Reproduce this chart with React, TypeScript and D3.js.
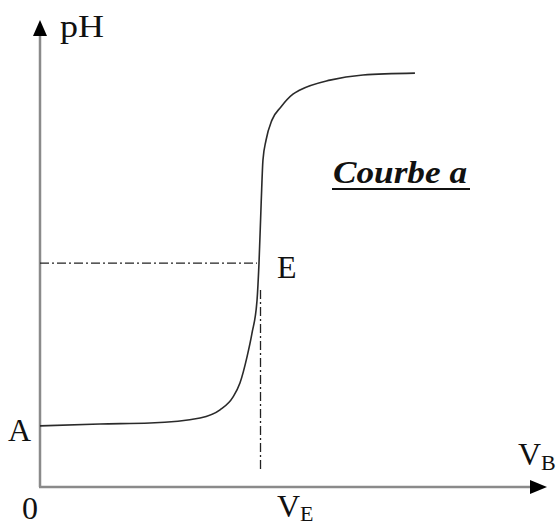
import React from "react";
import * as d3 from "d3";

// titration curve (V in mL, pH)
const volumes = [0, 2.74, 5.02, 7.31, 8.22, 8.81, 9.13, 9.45, 9.68, 9.91, 10.0, 10.1, 10.18, 10.32, 10.59, 11.0, 11.55, 11.87, 13.24, 14.75, 17.12];
const phValues = [1.91, 1.97, 2.0, 2.16, 2.41, 2.81, 3.25, 4.06, 4.81, 5.84, 7.0, 8.9, 10.22, 10.84, 11.47, 11.88, 12.28, 12.41, 12.72, 12.88, 12.94];

const equivalenceVolume = [10];
const equivalencePh = [7];

const yLabel = "pH";
const xLabel = ["V", "B"];
const eqLabel = ["V", "E"];
const originLabel = "0";
const startLabel = "A";
const pointLabel = "E";
const title = "Courbe a";

function App() {
  const width = 559;
  const height = 527;

  const x = d3.scaleLinear().domain([0, 23.15]).range([40, 547]);
  const y = d3.scaleLinear().domain([0, 14.6]).range([487, 20]);

  const pts: [number, number][] = volumes.map((v, i) => [v, phValues[i]]);
  const line = d3
    .line<[number, number]>()
    .x((d) => x(d[0]))
    .y((d) => y(d[1]))
    .curve(d3.curveMonotoneX);

  const vE = equivalenceVolume[0];
  const pE = equivalencePh[0];
  const x0 = x(0);
  const y0 = y(0);
  const font = "'Liberation Serif', 'Times New Roman', serif";
  const dash = "9 3 2 3";
  const fs = 32;
  const sub = 22;

  return (
    <svg
      width={width}
      height={height}
      style={{ position: "absolute", left: 0, top: 0, background: "#fff" }}
    >
      {/* axes */}
      <line x1={x0} y1={y0} x2={x0} y2={34} stroke="#8a8a8a" strokeWidth={2.5} />
      <line x1={x0 - 1} y1={y0} x2={532} y2={y0} stroke="#8a8a8a" strokeWidth={2.5} />
      <path d={`M${x0},${20} L${x0 - 7},${36} L${x0 + 7},${36} Z`} fill="#000" />
      <path d={`M547,${y0} L530,${y0 - 7} L530,${y0 + 7} Z`} fill="#000" />

      {/* equivalence guides */}
      <line x1={x0} y1={y(pE)} x2={x(vE) - 2} y2={y(pE)} stroke="#222" strokeWidth={1.3} strokeDasharray={dash} />
      <line x1={x(vE) + 1.5} y1={290} x2={x(vE) + 1.5} y2={471} stroke="#222" strokeWidth={1.3} strokeDasharray={dash} />

      {/* curve */}
      <path d={line(pts) ?? ""} fill="none" stroke="#2a2a2a" strokeWidth={1.6} />

      {/* labels */}
      <g fontFamily={font} fill="#111">
        <text x={60} y={37} fontSize={fs} textLength={44} lengthAdjust="spacingAndGlyphs">{yLabel}</text>
        <text x={8} y={441} fontSize={fs}>{startLabel}</text>
        <text x={277} y={278} fontSize={fs}>{pointLabel}</text>
        <text x={22} y={519} fontSize={fs}>{originLabel}</text>
        <text x={277} y={517} fontSize={fs}>
          {eqLabel[0]}
          <tspan fontSize={sub} dy={4}>{eqLabel[1]}</tspan>
        </text>
        <text x={518} y={465} fontSize={fs}>
          {xLabel[0]}
          <tspan fontSize={sub} dy={5}>{xLabel[1]}</tspan>
        </text>
        <text x={333} y={183} fontSize={32} fontWeight="bold" fontStyle="italic" textLength={134} lengthAdjust="spacingAndGlyphs">
          {title}
        </text>
        <line x1={332} y1={189} x2={470} y2={189} stroke="#111" strokeWidth={2.2} />
      </g>
    </svg>
  );
}

export default App;
